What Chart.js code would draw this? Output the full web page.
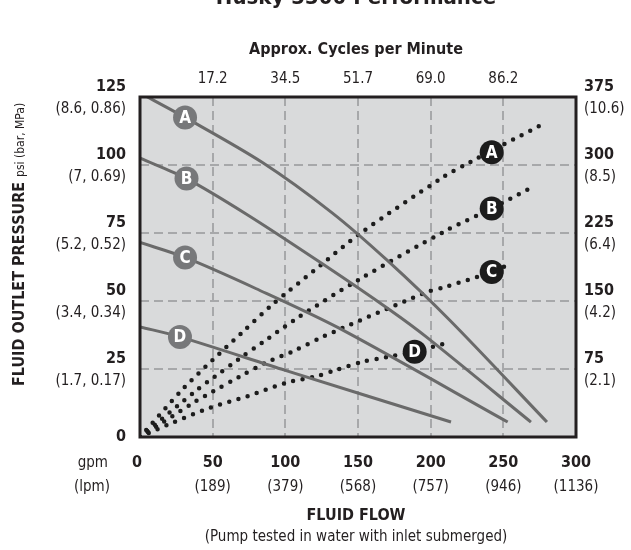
<!DOCTYPE html>
<html>
<head>
<meta charset="utf-8">
<script src="https://cdn.jsdelivr.net/npm/chart.js@4.4.0/dist/chart.umd.min.js"></script>
<style>
  html, body { margin: 0; padding: 0; background: #fff; }
  canvas { display: block; }
</style>
</head>
<body>
<canvas id="chart" width="631" height="550"></canvas>
<script>
// Tick labels
const flowTicks = [0, 50, 100, 150, 200, 250, 300];
const lpmLabels = ['', '(189)', '(379)', '(568)', '(757)', '(946)', '(1136)'];
const cycleTicks = [50, 100, 150, 200, 250];
const cycleLabels = ['17.2', '34.5', '51.7', '69.0', '86.2'];
const psiTicks = [0, 25, 50, 75, 100, 125];
const barLabels = ['', '(1.7, 0.17)', '(3.4, 0.34)', '(5.2, 0.52)', '(7, 0.69)', '(8.6, 0.86)'];
const airTicks = [75, 150, 225, 300, 375];
const airLabels = ['(2.1)', '(4.2)', '(6.4)', '(8.5)', '(10.6)'];

// Fluid outlet pressure curves [gpm, psi]
const pressureA = [[0, 126.5], [31, 117.5], [84, 101], [132, 82.5], [170, 65], [213, 43], [280, 5.5]];
const pressureB = [[0, 102.5], [32, 95], [73, 82], [126, 63.5], [172, 46.7], [197, 36.8], [269, 5.5]];
const pressureC = [[0, 71.5], [31, 66], [80, 54.5], [137, 40], [253, 5.5]];
const pressureD = [[0, 40.5], [27.5, 36.8], [100, 24.5], [214, 5.5]];

// Air consumption curves [gpm, scfm]
const airA = [[0, 0], [29.5, 53], [50, 85], [70.7, 116], [91, 146], [101.6, 160], [124, 189], [151, 224], [209, 287], [227, 303], [277, 345]];
const airB = [[0, 0], [40, 53], [51, 66], [68, 86], [85, 105], [108, 131], [150, 173], [211, 228], [242, 252], [267, 273]];
const airC = [[0, 0], [38, 39], [50, 50], [68, 66], [86.5, 82], [106, 95], [125, 110], [196, 159], [209, 165], [242, 182], [255, 191]];
const airD = [[0, 0], [22, 15.5], [48, 32], [74, 45], [101, 60], [121.5, 67], [135, 74], [153, 83], [169.5, 88], [189, 94], [209.5, 103]];

// Letter badges
const curveLetters = ['A', 'B', 'C', 'D'];
const pressureBadges = [[31, 117.5], [32, 95], [31, 66], [27.5, 36.8]];
const airBadges = [[242, 314], [242, 252], [242, 182], [189, 94]];

const FONT = '"Liberation Sans Narrow", "DejaVu Sans Condensed", "Arial Narrow", sans-serif';
const toXY = arr => arr.map(p => ({ x: p[0], y: p[1] }));

function solidLine(pts) {
    return {
        type: 'line', data: toXY(pts), yAxisID: 'y', order: 2,
        borderColor: '#6a6a6a', borderWidth: 3, pointRadius: 0,
        tension: 0.3, fill: false
    };
}

function dottedLine(pts) {
    return {
        type: 'line', data: toXY(pts), yAxisID: 'yR', order: 3,
        borderColor: '#1c1c1c', borderWidth: 4.5, borderDash: [0, 9.6], borderCapStyle: 'round',
        pointRadius: 0, tension: 0.3, fill: false
    };
}

function text(ctx, s, x, y, size, bold, align) {
    ctx.font = (bold ? 'bold ' : '') + size + 'px ' + FONT;
    ctx.textAlign = align || 'center';
    ctx.fillText(s, x, y);
}

const decor = {
    id: 'decor',
    beforeDraw(chart) {
        const { ctx, chartArea: a } = chart;
        ctx.save();
        ctx.fillStyle = '#d9dadb';
        ctx.fillRect(a.left, a.top, a.right - a.left, a.bottom - a.top);
        ctx.restore();
    },
    afterDatasetsDraw(chart) {
        const { ctx, chartArea: a } = chart;
        ctx.save();
        // letters in badges
        ctx.fillStyle = '#fff';
        ctx.textBaseline = 'middle';
        [0, 1].forEach(i => {
            chart.getDatasetMeta(i).data.forEach((pt, j) => {
                text(ctx, curveLetters[j], pt.x, pt.y + 1, 17, true);
            });
        });
        // frame
        ctx.strokeStyle = '#231f20';
        ctx.lineWidth = 3;
        ctx.strokeRect(a.left, a.top, a.right - a.left, a.bottom - a.top);
        ctx.restore();
    },
    afterDraw(chart) {
        const { ctx } = chart;
        const xs = chart.scales.x, ys = chart.scales.y, yr = chart.scales.yR;
        ctx.save();
        ctx.fillStyle = '#231f20';

        // cut-off title at the very top
        ctx.textBaseline = 'alphabetic';
        text(ctx, 'Husky 3300 Performance', 356, 4, 22, true);
        ctx.textBaseline = 'middle';

        text(ctx, 'Approx. Cycles per Minute', 356, 50, 16, true);
        cycleTicks.forEach((v, i) => text(ctx, cycleLabels[i], xs.getPixelForValue(v), 79, 15, false));

        // left axis
        psiTicks.forEach((v, i) => {
            const y = ys.getPixelForValue(v);
            if (v === 0) {
                text(ctx, '0', 126, y, 16, true, 'right');
            } else {
                text(ctx, String(v), 126, y - 10, 16, true, 'right');
                text(ctx, barLabels[i], 126, y + 12, 15, false, 'right');
            }
        });

        // right axis
        airTicks.forEach((v, i) => {
            const y = yr.getPixelForValue(v);
            text(ctx, String(v), 584, y - 10, 16, true, 'left');
            text(ctx, airLabels[i], 584, y + 12, 15, false, 'left');
        });

        // bottom axis
        text(ctx, 'gpm', 108, 463, 15, false, 'right');
        text(ctx, '(lpm)', 110, 487, 15, false, 'right');
        flowTicks.forEach((v, i) => {
            const x = xs.getPixelForValue(v);
            text(ctx, String(v), v === 0 ? x - 3 : x, 463, 16, true);
            if (lpmLabels[i]) text(ctx, lpmLabels[i], x, 487, 15, false);
        });
        text(ctx, 'FLUID FLOW', 356, 516, 16, true);
        text(ctx, '(Pump tested in water with inlet submerged)', 356, 537, 15, false);

        // rotated y title
        ctx.translate(24, 386);
        ctx.rotate(-Math.PI / 2);
        ctx.textBaseline = 'alphabetic';
        text(ctx, 'FLUID OUTLET PRESSURE', 0, 0, 16, true, 'left');
        const w = ctx.measureText('FLUID OUTLET PRESSURE').width;
        text(ctx, 'psi (bar, MPa)', w + 5, 0, 12, false, 'left');
        ctx.restore();
    }
};

const gridColor = (lo, hi) => c => (c.tick.value > lo && c.tick.value < hi) ? '#a7a8aa' : 'rgba(0,0,0,0)';

new Chart(document.getElementById('chart'), {
    type: 'line',
    data: {
        datasets: [
            {
                type: 'scatter', data: toXY(pressureBadges), yAxisID: 'y', order: 0,
                pointRadius: 12, pointBackgroundColor: '#77787a', pointBorderWidth: 0
            },
            {
                type: 'scatter', data: toXY(airBadges), yAxisID: 'yR', order: 1,
                pointRadius: 12, pointBackgroundColor: '#1c1c1c', pointBorderWidth: 0
            },
            solidLine(pressureA),
            solidLine(pressureB),
            solidLine(pressureC),
            solidLine(pressureD),
            dottedLine(airA),
            dottedLine(airB),
            dottedLine(airC),
            dottedLine(airD)
        ]
    },
    options: {
        responsive: false,
        animation: false,
        layout: { padding: { left: 140, right: 55, top: 97, bottom: 113 } },
        plugins: { legend: { display: false }, tooltip: { enabled: false } },
        scales: {
            x: {
                type: 'linear', min: 0, max: 300,
                ticks: { stepSize: 50, display: false },
                grid: { color: gridColor(0, 300), lineWidth: 2, drawTicks: false },
                border: { display: false, dash: [9, 5] },
                afterFit: s => { s.height = 0; }
            },
            y: {
                type: 'linear', position: 'left', min: 0, max: 125,
                ticks: { stepSize: 25, display: false },
                grid: { color: gridColor(0, 125), lineWidth: 2, drawTicks: false },
                border: { display: false, dash: [9, 5] },
                afterFit: s => { s.width = 0; }
            },
            yR: {
                type: 'linear', position: 'right', min: 0, max: 375,
                ticks: { stepSize: 75, display: false },
                grid: { display: false, drawTicks: false },
                border: { display: false },
                afterFit: s => { s.width = 0; }
            }
        }
    },
    plugins: [decor]
});
</script>
</body>
</html>
